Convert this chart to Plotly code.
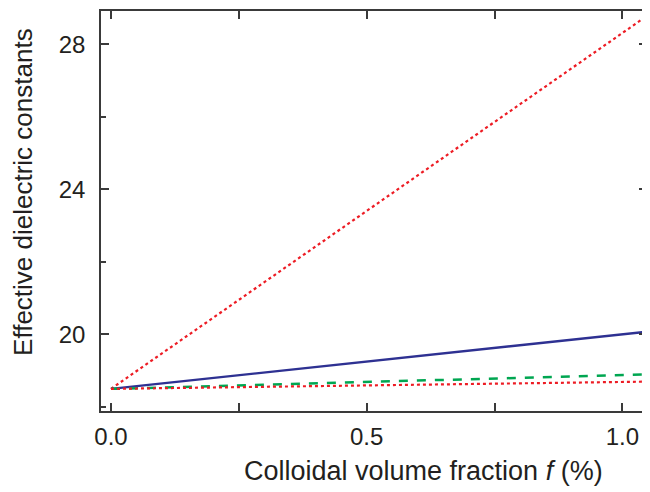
import plotly.graph_objects as go

# Colloidal volume fraction f (%)
f = [0.0, 0.5, 1.05]
# Effective dielectric constants for each curve
red_upper = [18.5, 23.4, 28.8]
blue_solid = [18.5, 19.25, 20.08]
green_dashed = [18.5, 18.69, 18.9]
red_lower = [18.5, 18.6, 18.7]

x_ticks = [0.0, 0.5, 1.0]
x_ticklabels = ["0.0", "0.5", "1.0"]
y_ticks = [20, 24, 28]
y_ticklabels = ["20", "24", "28"]

txt = "#231F20"
axc = "#3a3a3a"
font = "Liberation Sans, Arial, Helvetica, sans-serif"

fig = go.Figure()
fig.add_trace(go.Scatter(x=f, y=red_upper, mode="lines",
                         line=dict(color="#ED1C24", width=2.2, dash="dot")))
fig.add_trace(go.Scatter(x=f, y=blue_solid, mode="lines",
                         line=dict(color="#2E3192", width=2.4)))
fig.add_trace(go.Scatter(x=f, y=green_dashed, mode="lines",
                         line=dict(color="#00A651", width=2.5, dash="9px,9px")))
fig.add_trace(go.Scatter(x=f, y=red_lower, mode="lines",
                         line=dict(color="#ED1C24", width=2.2, dash="dot")))

# page body has an 8px margin: size/margins compensate for it
fig.update_layout(
    width=642, height=484,
    margin=dict(l=93, r=1, t=1, b=81),
    paper_bgcolor="white", plot_bgcolor="white",
    showlegend=False,
    font=dict(family=font, size=24, color=txt),
)
fig.update_xaxes(
    range=[-0.0195, 1.048],
    tickmode="array", tickvals=x_ticks, ticktext=x_ticklabels,
    ticks="inside", ticklen=8, tickwidth=1.5, tickcolor=axc,
    minor=dict(tickmode="array", tickvals=[0.25, 0.75], ticks="inside",
               ticklen=8, tickwidth=1.5, tickcolor=axc, showgrid=False),
    showline=True, linecolor=axc, linewidth=1.6, mirror="ticks",
    showgrid=False, zeroline=False,
    tickfont=dict(size=24, color=txt),
    ticklabelstandoff=3,
)
fig.update_yaxes(
    range=[17.89, 28.915],
    tickmode="array", tickvals=y_ticks, ticktext=y_ticklabels,
    ticks="inside", ticklen=8, tickwidth=1.5, tickcolor=axc,
    minor=dict(tickmode="array", tickvals=[18, 22, 26], ticks="inside",
               ticklen=5, tickwidth=1.5, tickcolor=axc, showgrid=False),
    showline=True, linecolor=axc, linewidth=1.6, mirror="ticks",
    showgrid=False, zeroline=False,
    tickfont=dict(size=24, color=txt),
    ticklabelstandoff=9,
)

fig.add_annotation(text="Effective dielectric constants", textangle=-90,
                   xref="paper", yref="paper", x=-0.144, y=0.5486,
                   xanchor="center", yanchor="middle", showarrow=False,
                   font=dict(size=26, color=txt))
fig.add_annotation(text="Colloidal volume fraction <i>f</i> (%)",
                   xref="paper", yref="paper", x=0.59, y=-0.1496,
                   xanchor="center", yanchor="middle", showarrow=False,
                   font=dict(size=27, color=txt))

fig.write_html("out.html")
